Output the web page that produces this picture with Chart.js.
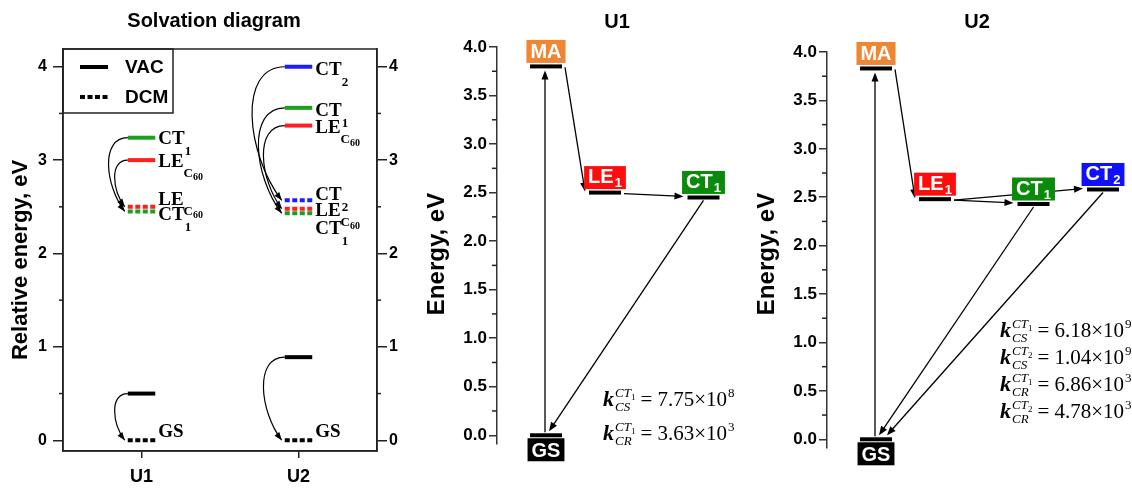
<!DOCTYPE html>
<html>
<head>
<meta charset="utf-8">
<title>Solvation and energy diagrams</title>
<script src="https://cdn.jsdelivr.net/npm/chart.js@4.4.1/dist/chart.umd.min.js"></script>
<style>
  html, body { margin: 0; padding: 0; background: #fff; }
  #wrap { position: relative; width: 1132px; height: 488px; overflow: hidden; }
  #wrap canvas { position: absolute; top: 0; }
</style>
</head>
<body>
<div id="wrap">
  <canvas id="solvChart" width="420" height="488" style="left:0"></canvas>
  <canvas id="u1Chart" width="330" height="488" style="left:420px"></canvas>
  <canvas id="u2Chart" width="382" height="488" style="left:750px"></canvas>
</div>
<script>
// --- DATA ---
const molecules = ['U1', 'U2'];
const solvTicks = [0, 1, 2, 3, 4];
const solvMinor = [0.5, 1.5, 2.5, 3.5];
const legendNames = ['VAC', 'DCM'];

// relative energies in eV, one per molecule (null = state not there)
const vacGS  = [0.50, 0.89];
const vacLE  = [3.00, 3.37];
const vacCT1 = [3.24, 3.56];
const vacCT2 = [null, 4.00];
const dcmGS  = [0.00, 0.00];
const dcmLE  = [2.50, 2.48];
const dcmCT1 = [2.45, 2.43];
const dcmCT2 = [null, 2.57];

const energyTicks = [0, 0.5, 1, 1.5, 2, 2.5, 3, 3.5, 4];
const energyMinor = [0.25, 0.75, 1.25, 1.75, 2.25, 2.75, 3.25, 3.75];

const u1States = ['GS', 'MA', 'LE1', 'CT1'];
const u1Energy = [0, 3.80, 2.50, 2.45];
const u1Steps = [['GS', 'MA'], ['MA', 'LE1'], ['LE1', 'CT1'], ['CT1', 'GS']];
const u1RateKind = ['CS', 'CR'];
const u1RateState = ['1', '1'];
const u1RateValue = [7.75, 3.63];
const u1RateExp = [8, 3];

const u2States = ['GS', 'MA', 'LE1', 'CT1', 'CT2'];
const u2Energy = [0, 3.83, 2.48, 2.43, 2.58];
const u2Steps = [['GS', 'MA'], ['MA', 'LE1'], ['LE1', 'CT1'], ['LE1', 'CT2'], ['CT1', 'GS'], ['CT2', 'GS']];
const u2RateKind = ['CS', 'CS', 'CR', 'CR'];
const u2RateState = ['1', '2', '1', '2'];
const u2RateValue = [6.18, 1.04, 6.86, 4.78];
const u2RateExp = [9, 9, 3, 3];

// --- STYLE / LAYOUT ---
const SANS = '"Liberation Sans", Arial, sans-serif';
const SERIF = '"Liberation Serif", "Times New Roman", serif';
const solvColor = { GS: '#000000', LE: '#ff1f1f', CT1: '#1e9e1e', CT2: '#1c1cff' };
const boxColor = { GS: '#000000', MA: '#ef8634', LE1: '#ff0d0d', CT1: '#0b8b0b', CT2: '#1010ff' };
const slotX = { GS: 4.9, MA: 4.9, LE1: 10.8, CT1: 20.65, CT2: 27.6 };
const LEVEL_HALF = 1.6;
const SOLV_HALF = 0.175;
// vertical nudge (px) of the state labels in the solvation panel
const solvLabelShift = {
  U1: { vac: { CT1: 0, LE: 0 }, dcm: { LE: -8, CT1: 2, GS: -10 } },
  U2: { vac: { CT2: 2, CT1: 2, LE: 1 }, dcm: { CT2: -7, LE: 1, CT1: 14, GS: -10 } }
};

// --- DRAW HELPERS ---
function head(ctx, x, y, ang, len, half) {
  ctx.beginPath();
  ctx.moveTo(x, y);
  ctx.lineTo(x - len * Math.cos(ang) + half * Math.sin(ang), y - len * Math.sin(ang) - half * Math.cos(ang));
  ctx.lineTo(x - len * Math.cos(ang) - half * Math.sin(ang), y - len * Math.sin(ang) + half * Math.cos(ang));
  ctx.closePath();
  ctx.fill();
}

function straightArrow(ctx, x0, y0, x1, y1) {
  const a = Math.atan2(y1 - y0, x1 - x0);
  ctx.beginPath();
  ctx.moveTo(x0, y0);
  ctx.lineTo(x1 - 6 * Math.cos(a), y1 - 6 * Math.sin(a));
  ctx.stroke();
  head(ctx, x1, y1, a, 9, 3.5);
}

function curvedArrow(ctx, xs, ys, xe, ye) {
  const drop = ye - ys;
  const d = 0.3 * drop + 3;
  const c2x = xs - 0.9 * d, c2y = ye - 0.35 * drop;
  ctx.beginPath();
  ctx.moveTo(xs, ys);
  ctx.bezierCurveTo(xs - 1.1 * d, ys, c2x, c2y, xe, ye);
  ctx.stroke();
  head(ctx, xe, ye, Math.atan2(ye - c2y, xe - c2x), 8, 3);
}

function richText(ctx, x, y, parts) {
  let cx = x;
  parts.forEach(([t, font, dy]) => {
    ctx.font = font;
    ctx.fillText(t, cx, y + dy);
    cx += ctx.measureText(t).width;
  });
}

function stateParts(state) {
  const big = `bold 19px ${SERIF}`, small = `bold 13px ${SERIF}`, tiny = `bold 10px ${SERIF}`;
  if (state === 'GS') return [['GS', big, 0]];
  if (state === 'LE') return [['LE', big, 0], ['C', small, 10], ['60', tiny, 13]];
  return [['CT', big, 0], [state.slice(2), small, 11]];
}

function rateText(ctx, x, y, kind, state, val, exp) {
  ctx.font = `bold italic 22px ${SERIF}`;
  ctx.fillText('k', x, y);
  let cx = x + ctx.measureText('k').width + 1;
  ctx.font = `italic 13px ${SERIF}`;
  ctx.fillText('CT', cx, y - 9);
  const wCT = ctx.measureText('CT').width;
  ctx.font = `9px ${SERIF}`;
  ctx.fillText(state, cx + wCT, y - 6);
  const wSup = wCT + ctx.measureText(state).width;
  ctx.font = `italic 13px ${SERIF}`;
  ctx.fillText(kind, cx, y + 5);
  cx += Math.max(wSup, ctx.measureText(kind).width) + 5;
  ctx.font = `21px ${SERIF}`;
  const body = `= ${val.toFixed(2)}\u00d710`;
  ctx.fillText(body, cx, y);
  cx += ctx.measureText(body).width;
  ctx.font = `13px ${SERIF}`;
  ctx.fillText(String(exp), cx + 1, y - 9);
}

function panelText(def) {
  return {
    id: 'panelText',
    afterDraw(chart) {
      const { ctx, chartArea: a } = chart;
      ctx.save();
      ctx.fillStyle = '#000';
      ctx.textAlign = 'center';
      ctx.textBaseline = 'middle';
      ctx.font = `bold 20px ${SANS}`;
      ctx.fillText(def.title, a.left + def.titleX, def.titleY);
      ctx.translate(def.axisX, def.axisY);
      ctx.rotate(-Math.PI / 2);
      ctx.font = `bold ${def.axisSize}px ${SANS}`;
      ctx.fillText(def.axisTitle, 0, 0);
      ctx.restore();
    }
  };
}

function minorTicks(axes, values, len) {
  return {
    id: 'minorTicks',
    afterDraw(chart) {
      const ctx = chart.ctx;
      ctx.save();
      ctx.strokeStyle = '#222';
      ctx.lineWidth = 1.5;
      axes.forEach(id => {
        const s = chart.scales[id];
        const onRight = s.position === 'right';
        const edge = onRight ? s.left : s.right;
        values.forEach(v => {
          const y = s.getPixelForValue(v);
          ctx.beginPath();
          ctx.moveTo(edge, y);
          ctx.lineTo(edge + (onRight ? len : -len), y);
          ctx.stroke();
        });
      });
      ctx.restore();
    }
  };
}

function yAxis(ticks, fmt, pad, extra) {
  return Object.assign({
    afterBuildTicks: s => { s.ticks = ticks.map(v => ({ value: v })); },
    ticks: { callback: fmt, color: '#000', padding: pad, font: { family: SANS, weight: 'bold', size: 16 } },
    grid: { drawOnChartArea: false, color: '#222', lineWidth: 1.5, tickLength: 10 },
    border: { color: '#222', width: 1.5 }
  }, extra);
}

// --- SOLVATION PANEL ---
const solvSeries = [['GS', vacGS, dcmGS], ['LE', vacLE, dcmLE], ['CT1', vacCT1, dcmCT1], ['CT2', vacCT2, dcmCT2]];
const solvDatasets = [];
solvSeries.forEach(([state, vac, dcm]) => {
  [['vac', vac], ['dcm', dcm]].forEach(([solv, values]) => {
    values.forEach((v, i) => {
      if (v == null) return;
      const xc = 1 + 2 * i;
      solvDatasets.push({
        label: `${molecules[i]} ${state} ${solv}`,
        data: [{ x: xc - SOLV_HALF, y: v }, { x: xc + SOLV_HALF, y: v }],
        borderColor: solvColor[state],
        borderWidth: 4,
        borderCapStyle: 'butt',
        borderDash: solv === 'dcm' ? [5, 2.5] : [],
        pointRadius: 0,
        mol: molecules[i], state: state, solv: solv
      });
    });
  });
});

const solvDecor = {
  id: 'solvDecor',
  afterDatasetsDraw(chart) {
    const { ctx, chartArea: a, scales: { x, y } } = chart;
    ctx.save();
    ctx.strokeStyle = '#222';
    ctx.fillStyle = '#000';
    ctx.lineWidth = 1.5;
    ctx.strokeRect(a.left, a.top, a.right - a.left, a.bottom - a.top);

    // legend box
    ctx.strokeRect(a.left, a.top, 110, 64);
    ctx.textBaseline = 'middle';
    ctx.textAlign = 'left';
    legendNames.forEach((name, k) => {
      const yy = a.top + 18 + 30 * k;
      ctx.strokeStyle = '#000';
      ctx.lineWidth = 4;
      ctx.setLineDash(k ? [5, 2.5] : []);
      ctx.beginPath();
      ctx.moveTo(a.left + 17, yy);
      ctx.lineTo(a.left + 45, yy);
      ctx.stroke();
      ctx.setLineDash([]);
      ctx.font = `bold 19px ${SANS}`;
      ctx.fillText(name, a.left + 62, yy + 1);
    });

    // solvation arrows VAC -> DCM
    ctx.lineWidth = 1.2;
    solvSeries.forEach(([state, vac, dcm]) => {
      molecules.forEach((m, i) => {
        if (vac[i] == null || dcm[i] == null) return;
        const xs = x.getPixelForValue(1 + 2 * i - SOLV_HALF);
        curvedArrow(ctx, xs, y.getPixelForValue(vac[i]), xs - 3, y.getPixelForValue(dcm[i]));
      });
    });

    // state labels
    ctx.textBaseline = 'alphabetic';
    chart.data.datasets.forEach(ds => {
      const dy = (solvLabelShift[ds.mol][ds.solv] || {})[ds.state];
      if (dy === undefined) return;
      const px = x.getPixelForValue(ds.data[1].x) + 3;
      const py = y.getPixelForValue(ds.data[1].y) + dy + 6.5;
      richText(ctx, px, py, stateParts(ds.state));
    });
    ctx.restore();
  }
};

new Chart(document.getElementById('solvChart'), {
  type: 'line',
  data: { datasets: solvDatasets },
  options: {
    responsive: false,
    animation: false,
    events: [],
    layout: { padding: { top: 49, left: 0, right: 0, bottom: 0 } },
    plugins: { legend: { display: false }, tooltip: { enabled: false } },
    scales: {
      x: {
        type: 'linear', min: 0, max: 4,
        afterFit: s => { s.height = 37; },
        afterBuildTicks: s => { s.ticks = molecules.map((m, i) => ({ value: 1 + 2 * i })); },
        ticks: { callback: (v, i) => molecules[i], color: '#000', padding: 8, font: { family: SANS, weight: 'bold', size: 18 } },
        grid: { drawOnChartArea: false, color: '#222', lineWidth: 1.5, tickLength: 7 },
        border: { color: '#222', width: 1.5 }
      },
      y: yAxis(solvTicks, v => String(v), 6, {
        min: -0.115, max: 4.19,
        afterFit: s => { s.width = 63; }
      }),
      y2: yAxis(solvTicks, v => String(v), 2, {
        position: 'right', min: -0.115, max: 4.19,
        afterFit: s => { s.width = 43; }
      })
    }
  },
  plugins: [
    solvDecor,
    minorTicks(['y', 'y2'], solvMinor, 4),
    panelText({ title: 'Solvation diagram', titleX: 151, titleY: 21, axisTitle: 'Relative energy, eV', axisX: 21, axisY: 260, axisSize: 22 })
  ]
});

// --- ENERGY DIAGRAMS ---
function diagramDecor(def) {
  return {
    id: 'diagramDecor',
    afterDatasetsDraw(chart) {
      const { ctx, chartArea: a, scales: { x, y } } = chart;
      const E = s => y.getPixelForValue(def.energy[def.states.indexOf(s)]);
      const cx = s => x.getPixelForValue(slotX[s]);
      const left = s => x.getPixelForValue(slotX[s] - LEVEL_HALF);
      const right = s => x.getPixelForValue(slotX[s] + LEVEL_HALF);
      ctx.save();
      ctx.strokeStyle = '#000';
      ctx.fillStyle = '#000';
      ctx.lineWidth = 1.3;
      let back = 0;
      def.steps.forEach(([from, to]) => {
        if (from === 'GS') straightArrow(ctx, cx(to) - 1, E(from) - 3, cx(to) - 1, E(to) + 4);
        else if (to === 'GS') { straightArrow(ctx, cx(from), E(from) + 3, cx(to) + 3 + 8 * back, E(to) - 4); back++; }
        else straightArrow(ctx, right(from) + 3, E(from) + 1, left(to) - 4, E(to) - 1);
      });

      // coloured state tags
      ctx.textAlign = 'left';
      ctx.textBaseline = 'alphabetic';
      def.states.forEach(s => {
        const main = s.replace(/\d$/, ''), sub = s.slice(main.length);
        ctx.font = `bold 20px ${SANS}`;
        const wMain = ctx.measureText(main).width;
        ctx.font = `bold 13px ${SANS}`;
        const wSub = sub ? ctx.measureText(sub).width + 1 : 0;
        const w = Math.max(33, wMain + wSub + 8), h = 23;
        const top = s === 'GS' ? E(s) + 3 : E(s) - 3.5 - h;
        ctx.fillStyle = boxColor[s];
        ctx.fillRect(cx(s) - w / 2, top, w, h);
        ctx.fillStyle = '#fff';
        const tx = cx(s) - (wMain + wSub) / 2;
        ctx.font = `bold 20px ${SANS}`;
        ctx.fillText(main, tx, top + 18.5 - (sub ? 1.5 : 0));
        if (sub) {
          ctx.font = `bold 13px ${SANS}`;
          ctx.fillText(sub, tx + wMain + 1, top + 21);
        }
      });

      // rate constants
      ctx.fillStyle = '#000';
      def.rateKind.forEach((kind, i) => {
        rateText(ctx, a.left + def.rateX, a.top + def.rateY + i * def.rateGap, kind, def.rateState[i], def.rateValue[i], def.rateExp[i]);
      });
      ctx.restore();
    }
  };
}

function makeDiagram(id, def) {
  const datasets = def.states.map((s, i) => ({
    label: s,
    data: [{ x: slotX[s] - LEVEL_HALF, y: def.energy[i] }, { x: slotX[s] + LEVEL_HALF, y: def.energy[i] }],
    borderColor: '#000',
    borderWidth: 4,
    borderCapStyle: 'butt',
    pointRadius: 0
  }));
  return new Chart(document.getElementById(id), {
    type: 'line',
    data: { datasets },
    options: {
      responsive: false,
      animation: false,
      events: [],
      layout: { padding: { top: def.top, bottom: def.bottom, right: def.right, left: 0 } },
      plugins: { legend: { display: false }, tooltip: { enabled: false } },
      scales: {
        x: { type: 'linear', display: false, min: 0, max: def.xMax },
        y: yAxis(energyTicks, v => v.toFixed(1), 2, {
          min: -0.09, max: 4.0,
          afterFit: s => { s.width = 77; },
          ticks: { callback: v => v.toFixed(1), color: '#000', padding: 2, font: { family: SANS, weight: 'bold', size: 17 } },
          grid: { drawOnChartArea: false, color: '#333', lineWidth: 1.5, tickLength: 8 },
          border: { color: '#333', width: 1.5 }
        })
      }
    },
    plugins: [
      diagramDecor(def),
      minorTicks(['y'], energyMinor, 5),
      panelText({ title: def.title, titleX: def.titleX, titleY: 22, axisTitle: 'Energy, eV', axisX: 17, axisY: 254, axisSize: 24 })
    ]
  });
}

makeDiagram('u1Chart', {
  title: 'U1', titleX: 120, top: 47, bottom: 44, right: 5, xMax: 24.8,
  states: u1States, energy: u1Energy, steps: u1Steps,
  rateKind: u1RateKind, rateState: u1RateState, rateValue: u1RateValue, rateExp: u1RateExp,
  rateX: 106, rateY: 359, rateGap: 34
});

makeDiagram('u2Chart', {
  title: 'U2', titleX: 150, top: 52, bottom: 40, right: 4, xMax: 30.1,
  states: u2States, energy: u2Energy, steps: u2Steps,
  rateKind: u2RateKind, rateState: u2RateState, rateValue: u2RateValue, rateExp: u2RateExp,
  rateX: 173, rateY: 285, rateGap: 27
});
</script>
</body>
</html>
